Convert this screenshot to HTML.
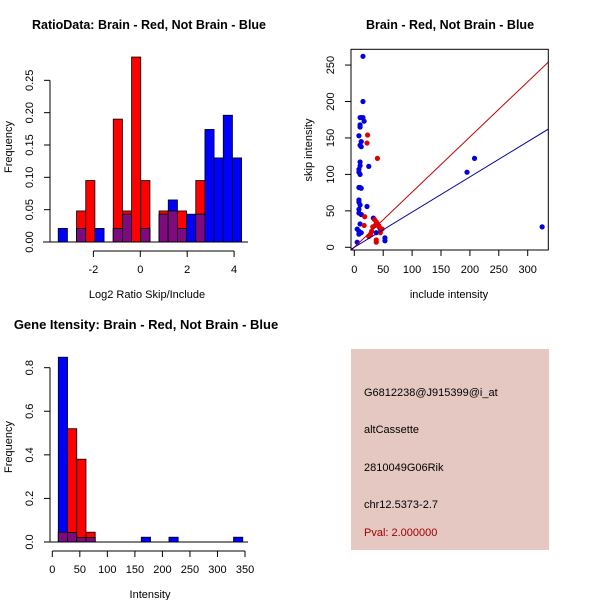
<!DOCTYPE html>
<html><head><meta charset="utf-8"><style>
body{margin:0;background:#fff}
svg text{font-family:"Liberation Sans",sans-serif}
</style></head><body>
<svg id="c" width="600" height="600" viewBox="0 0 600 600" xmlns="http://www.w3.org/2000/svg">
<rect width="600" height="600" fill="#fff"/>
<g id="p1"></g>
<g id="p2"></g>
<g id="p3"></g>
<g>
<rect x="351" y="349" width="198" height="201" fill="#e5c8c2"/>
<text x="364" y="396" font-size="11">G6812238@J915399@i_at</text>
<text x="364" y="433" font-size="11">altCassette</text>
<text x="364" y="471" font-size="11">2810049G06Rik</text>
<text x="364" y="508" font-size="11">chr12.5373-2.7</text>
<text x="364" y="536" font-size="11" fill="#a00000">Pval: 2.000000</text>
</g>
</svg>
<script>
// Ratio histogram data
const ratioBinStart = -3.5;
const ratioBinWidth = 0.391;
const ratioRed  = [0,0,0.048,0.095,0,0,0.19,0.048,0.286,0.095,0,0.048,0.048,0.048,0,0.095,0,0,0,0];
const ratioBlue = [0.021,0,0.021,0,0.021,0,0.021,0.043,0,0.021,0,0.043,0.065,0.021,0.043,0.043,0.174,0.13,0.196,0.13];
const ratioYTicks = [0,0.05,0.10,0.15,0.20,0.25];
const ratioYLabels = ["0.00","0.05","0.10","0.15","0.20","0.25"];
const ratioXTicks = [-2,0,2,4];
// Scatter data
const blueInc  = [15,15,10,12,15,17,10,10,8,12,10,12,10,10,8,8,10,8,10,12,8,8,10,8,8,12,10,22,25,5,8,12,8,5,195,208,325,53,53,33,38,45];
const blueSkip = [262,200,178,178,178,173,168,165,153,145,140,138,117,112,107,103,100,82,82,81,65,62,58,52,47,45,32,56,111,25,22,20,18,7,103,122,28,13,9,40,20,25];
const redInc   = [23,22,40,18,17,35,38,40,42,32,30,28,25,38,38,45,48,43,36];
const redSkip  = [154,143,122,42,30,38,35,32,30,28,22,18,15,10,7,20,25,28,30];
const redSlope = 0.757;
const blueSlope = 0.483;
const scXTicks = [0,50,100,150,200,250,300];
const scYTicks = [0,50,100,150,200,250];
// Intensity histogram data
const intBinStart = 10.9;
const intBinWidth = 16.75;
const intRed  = [0.045,0.52,0.38,0.045,0,0,0,0,0,0,0,0,0,0,0,0,0,0,0,0];
const intBlue = [0.848,0.043,0.02,0.02,0,0,0,0,0,0.022,0,0,0.022,0,0,0,0,0,0,0.022];
const intYTicks = [0,0.2,0.4,0.6,0.8];
const intYLabels = ["0.0","0.2","0.4","0.6","0.8"];
const intXTicks = [0,50,100,150,200,250,300,350];

const NS="http://www.w3.org/2000/svg";
function mk(parent,tag,attrs,txt){const e=document.createElementNS(NS,tag);for(const k in attrs)e.setAttribute(k,attrs[k]);if(txt!==undefined)e.textContent=txt;parent.appendChild(e);return e;}

function histogram(g,o){
  const sx=v=>o.x0+(v)*o.kx, sy=v=>o.y0-v*o.ky;
  for(let i=0;i<o.red.length;i++){
    const a=o.start+i*o.w,b=a+o.w,x1=sx(a),x2=sx(b);
    const r=o.red[i],bl=o.blue[i];
    if(r>0){const e=mk(g,'rect',{x:x1,y:sy(r),width:x2-x1,height:sy(0)-sy(r),fill:'#ff0000',stroke:'#000','stroke-width':0.8});
      
      }
    if(bl>0){const e=mk(g,'rect',{x:x1,y:sy(bl),width:x2-x1,height:sy(0)-sy(bl),fill:'#0000ff',stroke:'#000','stroke-width':0.8});
      
      }
    const m=Math.min(r,bl);
    if(m>0){const e=mk(g,'rect',{x:x1,y:sy(m),width:x2-x1,height:sy(0)-sy(m),fill:'#7f0a80',stroke:'#000','stroke-width':0.8});
      
      }
  }
  mk(g,'line',{x1:o.baseX1,x2:o.baseX2,y1:o.y0,y2:o.y0,stroke:'#000'});
  const yt=o.yTicks;
  mk(g,'line',{x1:o.axX,x2:o.axX,y1:sy(yt[0]),y2:sy(yt[yt.length-1]),stroke:'#000'});
  yt.forEach((t,i)=>{const y=sy(t);mk(g,'line',{x1:o.axX-6,x2:o.axX,y1:y,y2:y,stroke:'#000'});
    const lx=o.axX-17;
    const e=mk(g,'text',{x:lx,y:y,'font-size':11,'text-anchor':'middle',transform:`rotate(-90 ${lx} ${y})`},o.yLabels[i]);
    
    });
  const xt=o.xTicks;
  mk(g,'line',{x1:sx(xt[0]),x2:sx(xt[xt.length-1]),y1:o.axY,y2:o.axY,stroke:'#000'});
  xt.forEach(t=>{const x=sx(t);mk(g,'line',{x1:x,x2:x,y1:o.axY,y2:o.axY+6,stroke:'#000'});
    const e=mk(g,'text',{x:x,y:o.axY+22,'font-size':11,'text-anchor':'middle'},String(t));
    
    });
}

const p1=document.getElementById('p1');
histogram(p1,{x0:140.3,kx:23.45,y0:242,ky:646.7,start:ratioBinStart,w:ratioBinWidth,red:ratioRed,blue:ratioBlue,
  yTicks:ratioYTicks,yLabels:ratioYLabels,xTicks:ratioXTicks,axX:50,axY:251,baseX1:43,baseX2:248});
let t=mk(p1,'text',{x:149,y:29,'font-size':12.5,'font-weight':'bold','text-anchor':'middle'},'RatioData: Brain - Red, Not Brain - Blue');


t=mk(p1,'text',{x:147,y:298,'font-size':11,'text-anchor':'middle'},'Log2 Ratio Skip/Include');


t=mk(p1,'text',{x:12,y:147,'font-size':11,'text-anchor':'middle',transform:'rotate(-90 12 147)'},'Frequency');



const p3=document.getElementById('p3');
histogram(p3,{x0:52.3,kx:0.5506,y0:542,ky:217.9,start:intBinStart,w:intBinWidth,red:intRed,blue:intBlue,
  yTicks:intYTicks,yLabels:intYLabels,xTicks:intXTicks,axX:50,axY:551,baseX1:48,baseX2:248});
t=mk(p3,'text',{x:146,y:329,'font-size':13,'font-weight':'bold','text-anchor':'middle'},'Gene Itensity: Brain - Red, Not Brain - Blue');


t=mk(p3,'text',{x:150,y:598,'font-size':11,'text-anchor':'middle'},'Intensity');


t=mk(p3,'text',{x:12,y:447,'font-size':11,'text-anchor':'middle',transform:'rotate(-90 12 447)'},'Frequency');



// Scatter
const p2=document.getElementById('p2');
const bx1=351,bx2=548.3,by1=49.3,by2=250;
const sx=v=>354.3+v*0.578, sy=v=>247.3-v*0.729;
const defs=mk(p2,'defs',{});const cp=mk(defs,'clipPath',{id:'clip'});mk(cp,'rect',{x:bx1,y:by1,width:bx2-bx1,height:by2-by1});
const cg=mk(p2,'g',{'clip-path':'url(#clip)'});
blueInc.forEach((v,i)=>{const e=mk(cg,'circle',{cx:sx(v),cy:sy(blueSkip[i]),r:2.6,fill:'#0000e0'});
  
  });
redInc.forEach((v,i)=>{const e=mk(cg,'circle',{cx:sx(v),cy:sy(redSkip[i]),r:2.6,fill:'#e00000'});
  
  });
let l=mk(cg,'line',{x1:sx(-10),y1:sy(-10*redSlope),x2:sx(345),y2:sy(345*redSlope),stroke:'#c00000'});


l=mk(cg,'line',{x1:sx(-10),y1:sy(-10*blueSlope),x2:sx(345),y2:sy(345*blueSlope),stroke:'#0000a0'});


mk(p2,'rect',{x:bx1,y:by1,width:bx2-bx1,height:by2-by1,fill:'none',stroke:'#000'});
scXTicks.forEach(v=>{const x=sx(v);mk(p2,'line',{x1:x,x2:x,y1:by2,y2:by2+6,stroke:'#000'});
  const e=mk(p2,'text',{x:x,y:273,'font-size':11,'text-anchor':'middle'},String(v));
  
  });
scYTicks.forEach(v=>{const y=sy(v);mk(p2,'line',{x1:bx1-6,x2:bx1,y1:y,y2:y,stroke:'#000'});
  const e=mk(p2,'text',{x:334,y:y,'font-size':11,'text-anchor':'middle',transform:`rotate(-90 334 ${y})`},String(v));
  
  });
t=mk(p2,'text',{x:450,y:29,'font-size':12.5,'font-weight':'bold','text-anchor':'middle'},'Brain - Red, Not Brain - Blue');


t=mk(p2,'text',{x:449,y:298,'font-size':11,'text-anchor':'middle'},'include intensity');


t=mk(p2,'text',{x:312,y:150,'font-size':11,'text-anchor':'middle',transform:'rotate(-90 312 150)'},'skip intensity');


</script>
</body></html>
